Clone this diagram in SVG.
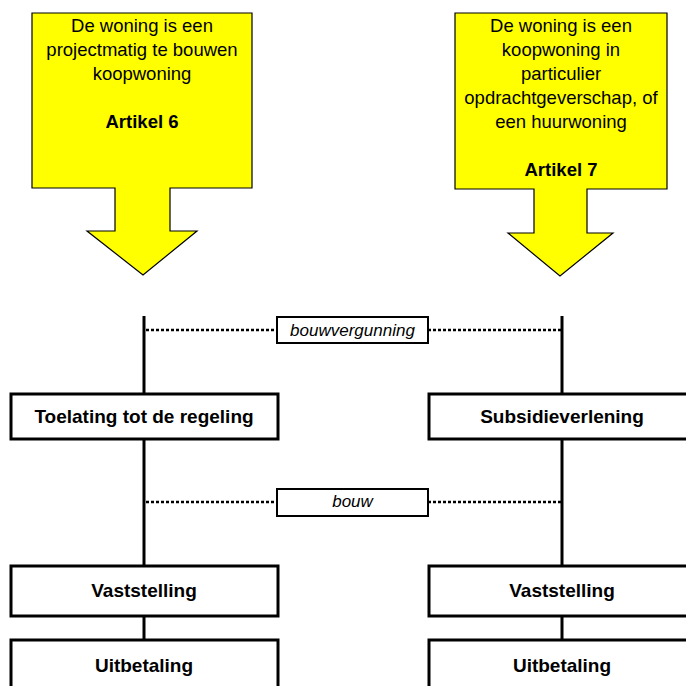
<svg xmlns="http://www.w3.org/2000/svg" width="686" height="686" viewBox="0 0 686 686">
<style>
.arrow{fill:#FFFF00;stroke:#000;stroke-width:1.2}
.t{font-family:"Liberation Sans",Arial,sans-serif;font-size:18.5px;fill:#000;text-anchor:middle}
.b{font-weight:bold}
.box{fill:#fff;stroke:#000;stroke-width:3}
.lbl{fill:#fff;stroke:#000;stroke-width:2}
.bt{font-family:"Liberation Sans",Arial,sans-serif;font-size:19px;font-weight:bold;fill:#000;text-anchor:middle}
.it{font-family:"Liberation Sans",Arial,sans-serif;font-size:17px;font-style:italic;fill:#000;text-anchor:middle}
.life{stroke:#000;stroke-width:3;fill:none}
.dot{stroke:#000;stroke-width:2.5;stroke-dasharray:3 2;fill:none}
</style>
<rect width="686" height="686" fill="#fff"/>
<g id="connectors">
<line class="life" x1="144" y1="316" x2="144" y2="639"/>
<line class="life" x1="562" y1="316" x2="562" y2="639"/>
<line class="dot" x1="146" y1="330" x2="277" y2="330"/>
<line class="dot" x1="428" y1="330" x2="561" y2="330"/>
<line class="dot" x1="146" y1="502" x2="277" y2="502"/>
<line class="dot" x1="428" y1="502" x2="561" y2="502"/>
</g>
<g id="art6">
<polygon class="arrow" points="32,13 252,13 252,188 170,188 170,231 197,231 143,275 87,231 115,231 115,188 32,188"/>
<text class="t" x="142" y="32">De woning is een</text>
<text class="t" x="142" y="56">projectmatig te bouwen</text>
<text class="t" x="142" y="80">koopwoning</text>
<text class="t b" x="142" y="128">Artikel 6</text>
</g>
<g id="art7">
<polygon class="arrow" points="455,13 667,13 667,189 587,189 587,233 613,233 560,276 508,233 534,233 534,189 455,189"/>
<text class="t" x="561" y="32">De woning is een</text>
<text class="t" x="561" y="56">koopwoning in</text>
<text class="t" x="561" y="80">particulier</text>
<text class="t" x="561" y="104">opdrachtgeverschap, of</text>
<text class="t" x="561" y="128">een huurwoning</text>
<text class="t b" x="561" y="176">Artikel 7</text>
</g>
<g id="bouwvergunning">
<rect class="lbl" x="277" y="317" width="151" height="26"/>
<text class="it" x="352.5" y="336">bouwvergunning</text>
</g>
<g id="bouw">
<rect class="lbl" x="277" y="489" width="151" height="27"/>
<text class="it" x="352.5" y="507">bouw</text>
</g>
<g id="toelating">
<rect class="box" x="11" y="394" width="267" height="45"/>
<text class="bt" x="144" y="423">Toelating tot de regeling</text>
</g>
<g id="subsidie">
<rect class="box" x="429" y="394" width="268" height="45"/>
<text class="bt" x="562" y="423">Subsidieverlening</text>
</g>
<g id="vast1">
<rect class="box" x="11" y="566" width="267" height="50"/>
<text class="bt" x="144" y="597">Vaststelling</text>
</g>
<g id="vast2">
<rect class="box" x="429" y="566" width="268" height="50"/>
<text class="bt" x="562" y="597">Vaststelling</text>
</g>
<g id="uit1">
<rect class="box" x="11" y="640" width="267" height="60"/>
<text class="bt" x="144" y="672">Uitbetaling</text>
</g>
<g id="uit2">
<rect class="box" x="429" y="640" width="268" height="60"/>
<text class="bt" x="562" y="672">Uitbetaling</text>
</g>
</svg>
